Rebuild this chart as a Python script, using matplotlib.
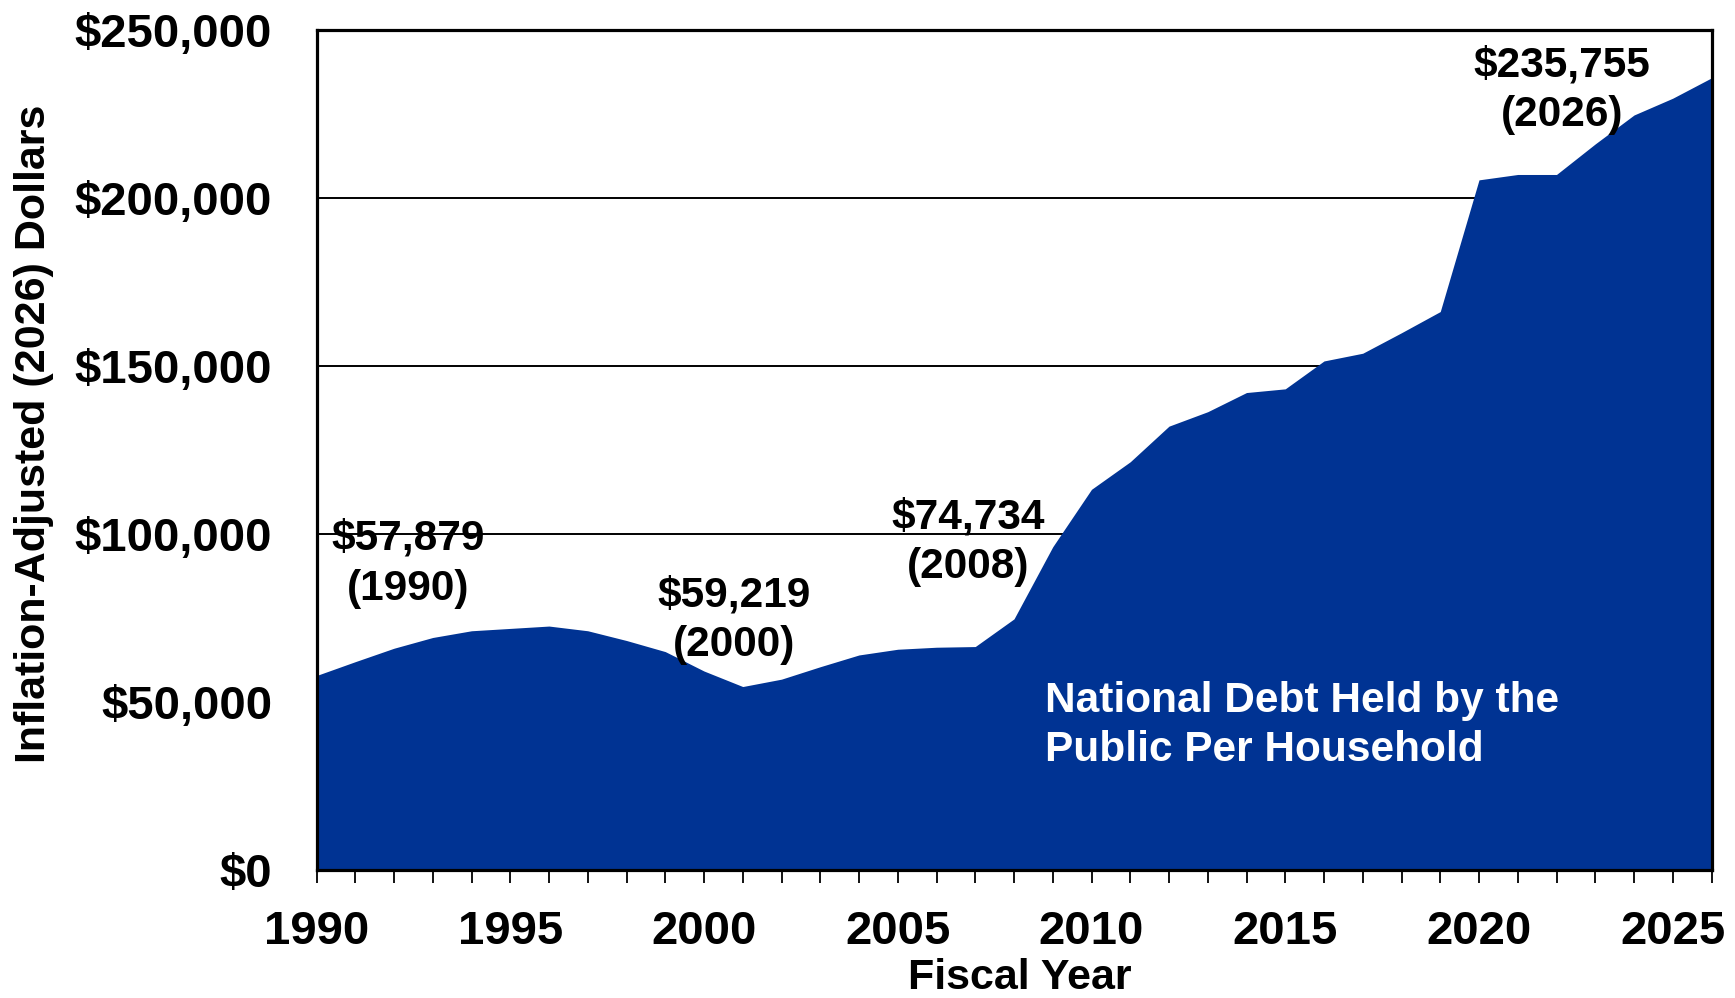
import matplotlib
matplotlib.use("Agg")
import matplotlib.pyplot as plt
from matplotlib.ticker import FuncFormatter, MultipleLocator

# National debt held by the public per household, inflation-adjusted (2026 dollars)
years = list(range(1990, 2027))
debt_per_household = [
    57879, 62000, 66000, 69200, 71200, 71900, 72600, 71200, 68300, 65000,
    59219, 54600, 56800, 60500, 64000, 65700, 66300, 66500, 74734, 96200,
    113300, 121500, 132100, 136400, 142100, 143200, 151500, 153800, 159900, 166200,
    205400, 207000, 207000, 216100, 224700, 229700, 235755,
]

highlight_years = [1990, 2000, 2008, 2026]
x_tick_labels = ["1990", "1995", "2000", "2005", "2010", "2015", "2020", "2025"]
y_ticks = [0, 50000, 100000, 150000, 200000, 250000]

series_label = "National Debt Held by the\nPublic Per Household"
x_title = "Fiscal Year"
y_title = "Inflation-Adjusted (2026) Dollars"

FILL = "#003393"
FONT = "Liberation Sans"

plt.rcParams["font.family"] = [FONT, "DejaVu Sans"]
plt.rcParams["font.weight"] = "bold"

W, H = 1735, 998
fig = plt.figure(figsize=(W / 100, H / 100), dpi=100)
fig.subplots_adjust(left=316.5 / W, right=1711.5 / W, top=1 - 30 / H, bottom=1 - 870 / H)
ax = fig.add_subplot(111)

ax.fill_between(years, debt_per_household, 0, color=FILL, linewidth=0, zorder=2)

ax.set_xlim(1990, 2026)
ax.set_ylim(0, 250000)

ax.set_yticks(y_ticks)
ax.yaxis.set_major_formatter(FuncFormatter(lambda v, p: f"${v:,.0f}"))
ax.set_xticks([int(t) for t in x_tick_labels])
ax.set_xticklabels(x_tick_labels)
ax.xaxis.set_minor_locator(MultipleLocator(1))

ax.grid(axis="y", color="black", linewidth=1.4, zorder=1)
ax.set_axisbelow(True)

ax.tick_params(axis="y", length=0, pad=32, labelsize=34)
ax.tick_params(axis="x", which="both", direction="out", length=9.5, width=1.3,
               color="black", labelsize=34, pad=19)
for lab in ax.get_xticklabels() + ax.get_yticklabels():
    lab.set_fontweight("bold")

for side in ["left", "top", "right", "bottom"]:
    ax.spines[side].set_linewidth(2.3)
    ax.spines[side].set_color("black")
    ax.spines[side].set_zorder(5)

ax.set_xlabel(x_title, fontsize=31, fontweight="bold", va="center")
ax.xaxis.set_label_coords(0.5043, -0.1286)
ax.set_ylabel(y_title, fontsize=31, fontweight="bold", va="center")
ax.yaxis.set_label_coords(-0.2025, 0.5187)

# Value callouts for selected years
callout_pos = {
    1990: (1992.36, 91200),
    2000: (2000.77, 74400),
    2008: (2006.81, 97500),
    2026: (2022.14, 232000),
}
for yr in highlight_years:
    val = debt_per_household[years.index(yr)]
    cx, cy = callout_pos[yr]
    ax.text(cx, cy, f"${val:,}\n({yr})", ha="center", va="center",
            fontsize=30.5, fontweight="bold", color="black",
            linespacing=1.32, zorder=6)

ax.text(2008.8, 43000, series_label, ha="left", va="center", fontsize=30.5,
        fontweight="bold", color="white", linespacing=1.32, zorder=6)

fig.savefig("out.png", dpi=100)
